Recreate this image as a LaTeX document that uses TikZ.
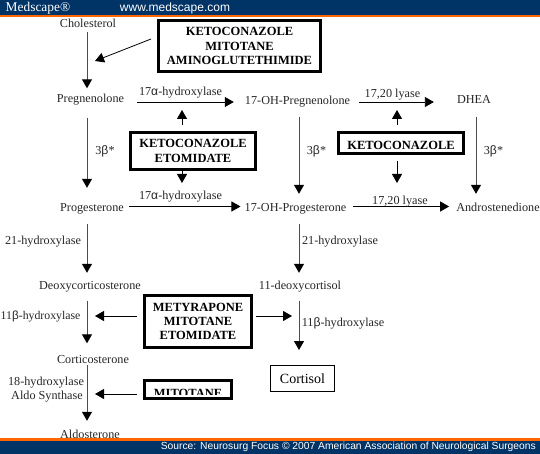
\documentclass[tikz,border=0pt]{standalone}
\usepackage{fontspec}
\usepackage{tikz}
\usetikzlibrary{arrows.meta}
\setmainfont{Liberation Serif}
\setsansfont{Liberation Sans}
\newfontfamily\grk{Liberation Sans}
\pgfdeclarelayer{edgelayer}
\pgfdeclarelayer{nodelayer}
\pgfsetlayers{edgelayer,nodelayer,main}
\definecolor{barblue}{HTML}{003366}
\definecolor{barorange}{HTML}{FF6600}
\tikzstyle{metabolite}=[inner sep=0pt, text height=10pt, text depth=1pt, font=\fontsize{12.2}{14}\selectfont, text=black!85]
\tikzstyle{enzyme}=[metabolite, align=center]
\tikzstyle{drug}=[rectangle, draw=black, fill=white, line width=3pt, inner sep=0pt, align=center, font=\fontsize{12.5}{14.4}\selectfont\bfseries, execute at begin node={\rule{0pt}{14pt}}]
\tikzstyle{pathway}=[draw=black!70, line width=1pt, -{Triangle[width=10pt,length=9pt,color=black]}]
\tikzstyle{inhibit}=[draw=black, line width=0.8pt, -{Triangle[width=10pt,length=9pt,color=black]}]
\tikzstyle{banner}=[inner sep=0pt, text=white, font=\fontsize{10.5}{12}\selectfont\sffamily]

\begin{document}
\begin{tikzpicture}[x=1pt, y=-1pt]
	\useasboundingbox (0,0) rectangle (540,454);
	\coordinate (colA) at (87,0);
	\coordinate (colB) at (299,0);
	\coordinate (colC) at (476,0);
	\coordinate (rowA) at (0,102);
	\coordinate (rowB) at (0,206.5);
	\begin{pgfonlayer}{nodelayer}
		\node [style=metabolite] (1) at (88,23) {Cholesterol};
		\node [style=metabolite] (2) at (90.5,98.5) {Pregnenolone};
		\node [style=metabolite] (3) at (92,207) {Progesterone};
		\node [style=metabolite] (4) at (90,285) {Deoxycorticosterone};
		\node [style=metabolite] (5) at (93,359) {Corticosterone};
		\node [style=metabolite] (6) at (90,434) {Aldosterone};
		\node [style=metabolite] (7) at (297.5,100) {17-OH-Pregnenolone};
		\node [style=metabolite] (8) at (295.5,207) {17-OH-Progesterone};
		\node [style=metabolite] (9) at (300,285) {11-deoxycortisol};
		\node [rectangle, draw=black, line width=1pt, minimum width=64pt, minimum height=26pt, inner sep=0pt, text=black, font=\fontsize{14}{16}\selectfont] (10) at (302.5,378.5) {Cortisol};
		\node [style=metabolite] (11) at (474,99) {DHEA};
		\node [style=metabolite] (12) at (498,207) {Androstenedione};

		\node [style=enzyme] (13) at (180.5,91) {17{\grk α}-hydroxylase};
		\node [style=enzyme] (14) at (180.5,195) {17{\grk α}-hydroxylase};
		\node [style=enzyme] (15) at (392.5,93) {17,20 lyase};
		\node [style=enzyme] (16) at (400,200) {17,20 lyase};
		\node [style=enzyme] (17) at (105,150) {3{\grk β}*};
		\node [style=enzyme] (18) at (316.5,150) {3{\grk β}*};
		\node [style=enzyme] (19) at (493.5,150) {3{\grk β}*};
		\node [style=enzyme] (20) at (43,240) {21-hydroxylase};
		\node [style=enzyme] (21) at (340,240) {21-hydroxylase};
		\node [style=enzyme, anchor=west, font=\fontsize{11.8}{14}\selectfont] (22) at (0.5,314.5) {11{\grk β}-hydroxylase};
		\node [style=enzyme] (23) at (343,322) {11{\grk β}-hydroxylase};
		\node [style=enzyme] (24) at (46,381) {18-hydroxylase};
		\node [style=enzyme] (25) at (47,395) {Aldo Synthase};

		\node [style=drug, minimum width=162pt, minimum height=51pt] (26) at (239.5,46) {KETOCONAZOLE\\MITOTANE\\AMINOGLUTETHIMIDE};
		\node [style=drug, minimum width=125pt, minimum height=37pt] (27) at (193,151) {KETOCONAZOLE\\ETOMIDATE};
		\node [style=drug, minimum width=125pt, minimum height=21pt] (28) at (401,143) {KETOCONAZOLE};
		\node [style=drug, minimum width=107pt, minimum height=52pt] (29) at (198,321.5) {METYRAPONE\\MITOTANE\\ETOMIDATE};
		\node [style=drug, minimum width=87pt, minimum height=18pt] (30) at (188,389.5) {};
		\begin{scope}
			\clip (146,381) rectangle (230,394);
			\node [inner sep=0pt, font=\fontsize{12.5}{14.4}\selectfont\bfseries] (31) at (188,393.5) {MITOTANE};
		\end{scope}
	\end{pgfonlayer}
	\coordinate (32) at (95,61);
	\coordinate (33) at (182,110);
	\coordinate (34) at (182,183);
	\coordinate (35) at (397,110);
	\coordinate (36) at (397,183);
	\coordinate (37) at (95,316);
	\coordinate (38) at (292,316);
	\coordinate (39) at (95,394);
	\coordinate (40) at (151,39);
	\begin{pgfonlayer}{edgelayer}
		\draw [style=pathway, shorten <=3.5pt, shorten >=4.5pt] (colA |- 1.south) to (colA |- 2.north);
		\draw [style=pathway, shorten <=13.5pt, shorten >=13.5pt] (colA |- 2.south) to (colA |- 3.north);
		\draw [style=pathway, shorten <=11pt, shorten >=6.5pt] (colA |- 3.south) to (colA |- 4.north);
		\draw [style=pathway, shorten <=10.5pt, shorten >=10pt] (colA |- 4.south) to (colA |- 5.north);
		\draw [style=pathway, shorten <=0.5pt, shorten >=7.5pt] (colA |- 5.south) to (colA |- 6.north);
		\draw [style=pathway, shorten <=11.5pt, shorten >=7.5pt] (colB |- 7.south) to (colB |- 8.north);
		\draw [style=pathway, shorten <=11pt, shorten >=6.5pt] (colB |- 8.south) to (colB |- 9.north);
		\draw [style=pathway, shorten <=10.5pt, shorten >=15pt] (colB |- 9.south) to (colB |- 10.north);
		\draw [style=pathway, shorten <=12.5pt, shorten >=7.5pt] (colC |- 11.south) to (colC |- 12.north);
		\draw [style=inhibit, shorten <=13pt, shorten >=11pt] (2.east |- rowA) to (7.west |- rowA);
		\draw [style=inhibit, shorten <=5pt, shorten >=4pt] (3.east |- rowB) to (8.west |- rowB);
		\draw [style=inhibit, shorten <=9pt, shorten >=23pt] (7.east |- rowA) to (11.west |- rowA);
		\draw [style=inhibit, shorten <=6pt, shorten >=7pt] (8.east |- rowB) to (12.west |- rowB);
		\draw [style=inhibit] (40) to (32);
		\draw [style=inhibit, shorten <=6pt] (33 |- 27.north) to (33);
		\draw [style=inhibit] (34 |- 27.south) to (34);
		\draw [style=inhibit, shorten <=6pt] (35 |- 28.north) to (35);
		\draw [style=inhibit, shorten <=6pt] (36 |- 28.south) to (36);
		\draw [style=inhibit, shorten <=6pt] (29.west |- 37) to (37);
		\draw [style=inhibit, shorten <=3pt] (29.east |- 38) to (38);
		\draw [style=inhibit, shorten <=6pt] (30.west |- 39) to (39);
	\end{pgfonlayer}
	\fill [barblue] (0,0) rectangle (540,15.5);
	\fill [barorange] (0,15.5) rectangle (540,17.5);
	\fill [barorange] (0,438) rectangle (540,440.5);
	\fill [barblue] (0,440.5) rectangle (540,454);
	\node [inner sep=0pt, text=white, font=\fontsize{13.4}{14}\selectfont] (41) at (38,8.5) {Medscape®};
	\node [style=banner, font=\fontsize{12}{12}\selectfont\sffamily] (42) at (175,8.5) {www.medscape.com};
	\node [style=banner, anchor=east, font=\fontsize{10.3}{12}\selectfont\sffamily] (43) at (536,447) {Source: Neurosurg Focus © 2007 American Association of Neurological Surgeons};
\end{tikzpicture}
\end{document}
